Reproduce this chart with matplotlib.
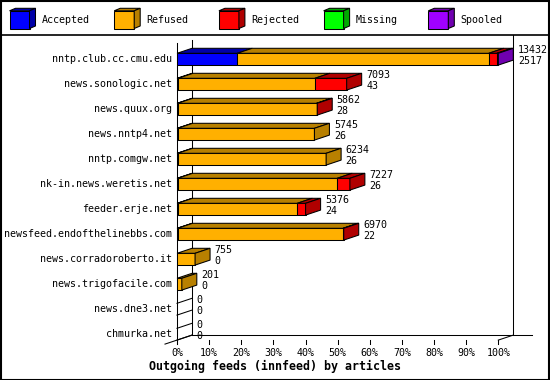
import matplotlib
matplotlib.use("Agg")
import matplotlib.pyplot as plt
from matplotlib.patches import Polygon, Rectangle
from matplotlib.lines import Line2D

# ---------------- data ----------------
hosts = ["nntp.club.cc.cmu.edu", "news.sonologic.net", "news.quux.org",
         "news.nntp4.net", "nntp.comgw.net", "nk-in.news.weretis.net",
         "feeder.erje.net", "newsfeed.endofthelinebbs.com",
         "news.corradoroberto.it", "news.trigofacile.com", "news.dne3.net",
         "chmurka.net"]
offered = [13432, 7093, 5862, 5745, 6234, 7227, 5376, 6970, 755, 201, 0, 0]
accepted = [2517, 43, 28, 26, 26, 26, 24, 22, 0, 0, 0, 0]
refused = [10515, 5720, 5804, 5719, 6208, 6669, 5002, 6918, 755, 201, 0, 0]
rejected = [340, 1330, 30, 0, 0, 532, 350, 30, 0, 0, 0, 0]
missing = [0, 0, 0, 0, 0, 0, 0, 0, 0, 0, 0, 0]
spooled = [60, 0, 0, 0, 0, 0, 0, 0, 0, 0, 0, 0]
series_names = ["Accepted", "Refused", "Rejected", "Missing", "Spooled"]
tick_pct = [0, 10, 20, 30, 40, 50, 60, 70, 80, 90, 100]
x_title = "Outgoing feeds (innfeed) by articles"

front_colors = ["#0000ff", "#ffb000", "#ff0000", "#00ff00", "#a000ff"]
dark_colors = ["#0000a8", "#b88000", "#b00000", "#00a800", "#7000b0"]

FONT = "DejaVu Sans Mono"
W, H_PX = 550, 380
fig = plt.figure(figsize=(W / 100, H_PX / 100), dpi=100)

# layout: pixel geometry of the pseudo-3D plot
X0_PX, PX_PER_PCT = 177.0, 3.213
Y0_PX, PX_PER_CAT = 59.2, 25.0
xlim = (-X0_PX / PX_PER_PCT, (W - X0_PX) / PX_PER_PCT)
ylim = ((H_PX - Y0_PX) / PX_PER_CAT, -Y0_PX / PX_PER_CAT)
DX = 15 / PX_PER_PCT           # depth in percent units
DY = -5 / PX_PER_CAT           # depth in category units
HB = 5.9 / PX_PER_CAT          # half bar height

def px_x(p):
    return (p - X0_PX) / PX_PER_PCT

def px_y(p):
    return (p - Y0_PX) / PX_PER_CAT

ax = fig.add_axes([0, 0, 1, 1])
ax.set_xlim(*xlim)
ax.set_ylim(*ylim)
ax.axis("off")

LW = 0.75
series = [accepted, refused, rejected, missing, spooled]
scale = 100.0 / max(offered)
n = len(hosts)

# axes frame (3D box)
floor_front = (n - 1) + HB
floor_back = floor_front + DY
ax.add_line(Line2D([0, 0], [px_y(43), px_y(344)], color="black", lw=LW))
ax.add_line(Line2D([DX, DX], [px_y(40), floor_back], color="black", lw=LW))
ax.add_line(Line2D([100 + DX, 100 + DX], [px_y(35), floor_back], color="black", lw=LW))
ax.add_line(Line2D([DX, px_x(532)], [floor_back, floor_back], color="black", lw=LW))
ax.add_line(Line2D([px_x(165), DX], [floor_back - DY * (DX - px_x(165)) / DX, floor_back],
                   color="black", lw=LW))
ax.add_line(Line2D([100, 100 + DX], [floor_front, floor_back], color="black", lw=LW))
for t in tick_pct:
    ax.add_line(Line2D([t, t], [floor_front, px_y(344)], color="black", lw=LW))
    ax.text(t, px_y(353.5), f"{t}%", ha="center", va="center", family=FONT,
            fontsize=7.2)

ax.text(px_x(275), px_y(366.5), x_title, ha="center", va="center",
        family=FONT, fontsize=8.4, fontweight="bold")

# bars
for i in range(n):
    cum = 0.0
    segs = [(s[i], k) for k, s in enumerate(series) if s[i] > 0]
    top, bot = i - HB, i + HB
    for j, (v, k) in enumerate(segs):
        x0 = cum * scale
        x1 = (cum + v) * scale
        cum += v
        ax.add_patch(Rectangle((x0, top), x1 - x0, bot - top, fc=front_colors[k],
                               ec="black", lw=LW, zorder=3))
        ax.add_patch(Polygon([(x0, top), (x1, top), (x1 + DX, top + DY), (x0 + DX, top + DY)],
                             closed=True, fc=dark_colors[k], ec="black", lw=LW, zorder=3))
        if j == len(segs) - 1:
            ax.add_patch(Polygon([(x1, top), (x1 + DX, top + DY), (x1 + DX, bot + DY), (x1, bot)],
                                 closed=True, fc=dark_colors[k], ec="black", lw=LW, zorder=3))
    if not segs:
        ax.add_line(Line2D([0, DX], [top, top + DY], color="black", lw=LW, zorder=3))
        ax.add_line(Line2D([0, DX], [bot, bot + DY], color="black", lw=LW, zorder=3))
    xe = offered[i] * scale + DX + 4.5 / PX_PER_PCT
    ax.text(xe, i - 9.2 / PX_PER_CAT, str(offered[i]), ha="left", va="center",
            family=FONT, fontsize=7.2, zorder=4)
    ax.text(xe, i + 2.0 / PX_PER_CAT, str(accepted[i]), ha="left", va="center",
            family=FONT, fontsize=7.2, zorder=4)
    ax.text(px_x(172), i, hosts[i], ha="right", va="center", family=FONT,
            fontsize=7.2)

# legend band
lax = fig.add_axes([0, 1 - 35 / H_PX, 1, 35 / H_PX])
lax.set_xlim(0, W)
lax.set_ylim(35, 0)
lax.axis("off")
for k, name in enumerate(series_names):
    x = 9.5 + 104.7 * k
    y0, y1 = 10.8, 28.5
    ddx, ddy = 6, -2.5
    lax.add_patch(Rectangle((x, y0), 20, y1 - y0, fc=front_colors[k], ec="black", lw=LW))
    lax.add_patch(Polygon([(x, y0), (x + 20, y0), (x + 20 + ddx, y0 + ddy), (x + ddx, y0 + ddy)],
                          closed=True, fc=dark_colors[k], ec="black", lw=LW))
    lax.add_patch(Polygon([(x + 20, y0), (x + 20 + ddx, y0 + ddy), (x + 20 + ddx, y1 + ddy), (x + 20, y1)],
                          closed=True, fc=dark_colors[k], ec="black", lw=LW))
    lax.text(x + 32.5, 20, name, ha="left", va="center", family=FONT, fontsize=7.2)

# separator and border
fig.add_artist(Line2D([0, 1], [1 - 35 / H_PX, 1 - 35 / H_PX], transform=fig.transFigure,
                      color="black", lw=1.2))
fig.add_artist(Rectangle((0.5 / W, 0.5 / H_PX), 1 - 1.5 / W, 1 - 1.5 / H_PX,
                         transform=fig.transFigure, fill=False, ec="black", lw=1.5))

fig.savefig("out.png", dpi=100)
